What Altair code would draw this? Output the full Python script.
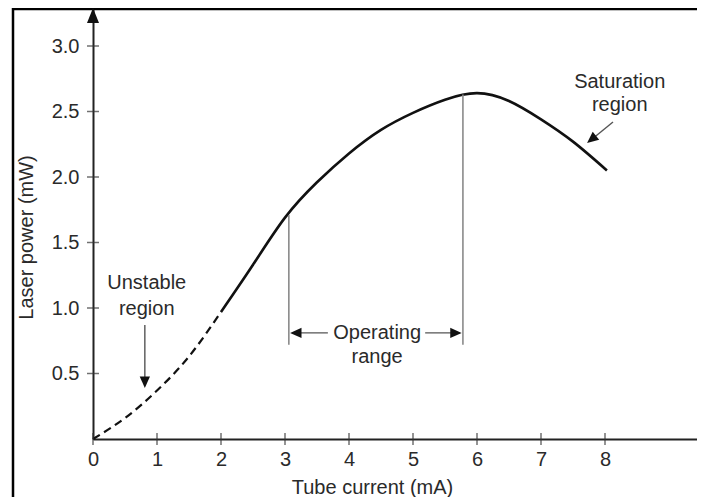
import altair as alt
import pandas as pd

# ---- data ----
dash_x = [0.0, 0.5, 1.0, 1.5, 2.0]
dash_y = [0.0, 0.16, 0.37, 0.63, 0.97]
solid_x = [2.0, 2.5, 3.0, 3.5, 4.0, 4.5, 5.0, 5.5, 6.0, 6.5, 7.0, 7.5, 8.03]
solid_y = [0.97, 1.33, 1.69, 1.96, 2.18, 2.36, 2.49, 2.59, 2.64, 2.58, 2.44, 2.27, 2.05]

x_ticks = [0, 1, 2, 3, 4, 5, 6, 7, 8]
y_ticks = [0.5, 1.0, 1.5, 2.0, 2.5, 3.0]

# annotation texts
label_text = ["Unstable", "region", "Operating", "range", "Saturation", "region"]
label_x = [0.84, 0.84, 4.44, 4.44, 8.23, 8.23]
label_y = [1.19, 0.99, 0.81, 0.626, 2.725, 2.55]

# thin annotation lines: (x, y) -> (x2, y2)
seg_x = [0.81, 3.12, 5.19, 8.125]
seg_y = [0.87, 0.81, 0.81, 2.42]
seg_x2 = [0.81, 3.67, 5.73, 7.80]
seg_y2 = [0.46, 0.81, 0.81, 2.29]

# operating range boundaries
bound_x = [3.06, 5.78]
bound_lo = [0.72, 0.72]
bound_hi = [1.71, 2.63]

# arrow heads (tip position, direction in degrees)
head_x = [0.81, 3.08, 5.76, 7.72]
head_y = [0.39, 0.81, 0.81, 2.26]
head_angle = [180, 270, 90, 231]

PX_PER_X = 64.0
PX_PER_Y = 131.0
W, H = 604, 431
X_MAX = W / PX_PER_X
Y_MAX = H / PX_PER_Y
FONT = "Liberation Sans"
TXT = "#2a2a2a"

xs = alt.Scale(domain=[0, X_MAX], nice=False, zero=False)
ys = alt.Scale(domain=[0, Y_MAX], nice=False, zero=False)

curve_solid = pd.DataFrame({"x": solid_x, "y": solid_y})
curve_dash = pd.DataFrame({"x": dash_x, "y": dash_y})
labels = pd.DataFrame({"t": label_text, "x": label_x, "y": label_y})
segs = pd.DataFrame({"x": seg_x, "y": seg_y, "x2": seg_x2, "y2": seg_y2})
bounds = pd.DataFrame({"x": bound_x, "y": bound_lo, "y2": bound_hi})
heads = pd.DataFrame({"x": head_x, "y": head_y, "a": head_angle})
ytk = pd.DataFrame({"y": y_ticks, "x": [0] * len(y_ticks)})
xtk = pd.DataFrame({"x": x_ticks, "y": [0] * len(x_ticks)})
top_arrow = pd.DataFrame({"x": [0], "y": [Y_MAX]})

x_axis = alt.Axis(values=x_ticks, format="d", ticks=False, tickSize=0, labelPadding=10,
                  labelFlush=False,
                  labelFont=FONT, labelFontSize=20, labelColor=TXT, grid=False,
                  domainColor="#222222", domainWidth=2,
                  title="Tube current (mA)", titleFont=FONT, titleFontSize=20,
                  titleFontWeight="normal", titleColor=TXT, titleX=279, titleY=38,
                  titleBaseline="top")
y_axis = alt.Axis(values=y_ticks, format=".1f", ticks=False, tickSize=0, labelPadding=14,
                  labelFlush=False,
                  labelFont=FONT, labelFontSize=20, labelColor=TXT, grid=False,
                  domainColor="#222222", domainWidth=2,
                  title="Laser power (mW)", titleFont=FONT, titleFontSize=20,
                  titleFontWeight="normal", titleColor=TXT, titleX=-67, titleY=229,
                  titleBaseline="middle", titleAlign="center")

base_solid = alt.Chart(curve_solid).mark_line(
    color="#111111", strokeWidth=2.6, interpolate="natural"
).encode(
    x=alt.X("x:Q", scale=xs, axis=x_axis),
    y=alt.Y("y:Q", scale=ys, axis=y_axis),
)

dashed = alt.Chart(curve_dash).mark_line(
    color="#111111", strokeWidth=2.2, strokeDash=[8, 5], interpolate="natural"
).encode(x=alt.X("x:Q", scale=xs), y=alt.Y("y:Q", scale=ys))

bound_rules = alt.Chart(bounds).mark_rule(color="#8a8a8a", strokeWidth=1.6).encode(
    x=alt.X("x:Q", scale=xs), y=alt.Y("y:Q", scale=ys), y2="y2:Q"
)

seg_rules = alt.Chart(segs).mark_rule(color="#555555", strokeWidth=1.4).encode(
    x=alt.X("x:Q", scale=xs), y=alt.Y("y:Q", scale=ys), x2="x2:Q", y2="y2:Q"
)

HEAD = "M0,0L0.9,2L-0.9,2Z"
head_marks = alt.Chart(heads).mark_point(
    shape=HEAD, filled=True, color="#111111", size=130, opacity=1, strokeWidth=0
).encode(x=alt.X("x:Q", scale=xs), y=alt.Y("y:Q", scale=ys), angle=alt.Angle("a:Q", scale=None))

axis_head = alt.Chart(top_arrow).mark_point(
    shape="M0,0L0.8,2L-0.8,2Z", filled=True, color="#111111", size=225, opacity=1, strokeWidth=0
).encode(x=alt.X("x:Q", scale=xs), y=alt.Y("y:Q", scale=ys))

ytick_marks = alt.Chart(ytk).mark_tick(orient="horizontal", size=12, thickness=1.5, color="#333333").encode(
    x=alt.X("x:Q", scale=xs), y=alt.Y("y:Q", scale=ys)
)
xtick_marks = alt.Chart(xtk).mark_tick(orient="vertical", size=12, thickness=1.5, color="#333333").encode(
    x=alt.X("x:Q", scale=xs), y=alt.Y("y:Q", scale=ys)
)

text_marks = alt.Chart(labels).mark_text(
    font=FONT, fontSize=20, color=TXT, align="center", baseline="middle"
).encode(x=alt.X("x:Q", scale=xs), y=alt.Y("y:Q", scale=ys), text="t:N")

frame = alt.Chart(pd.DataFrame({"a": [0]})).mark_rect(
    fillOpacity=0, stroke="#000000", strokeWidth=2.5
).encode(x=alt.value(-80), x2=alt.value(W + 40), y=alt.value(1), y2=alt.value(H + 120))

chart = alt.layer(
    frame, base_solid, dashed, bound_rules, seg_rules, head_marks, axis_head,
    ytick_marks, xtick_marks, text_marks
).properties(
    width=W, height=H,
    autosize=alt.AutoSizeParams(type="none"),
    padding={"left": 85, "top": 0, "right": 0, "bottom": 58},
    background="white",
).configure_view(stroke=None)

chart.save("out.html", embed_options={"renderer": "svg", "actions": False})
